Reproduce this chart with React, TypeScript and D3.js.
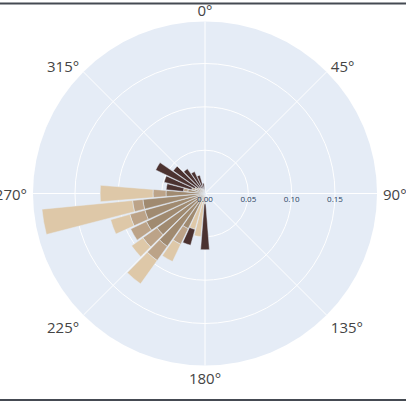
import * as d3 from 'd3';

// direction bins (degrees, compass) and stacked frequencies per class
const directions = [180, 190, 200, 210, 220, 230, 240, 250, 260, 270, 280, 290, 300, 310, 320, 330, 340, 350];
const classA = [0, 0, 0, 0.045, 0.075, 0.068, 0.075, 0.072, 0.072, 0.045, 0.02, 0.012, 0.01, 0.008, 0.006, 0.005, 0.004, 0.003];
const classB = [0, 0.01, 0.008, 0.02, 0.02, 0.02, 0.02, 0.018, 0.012, 0.015, 0.005, 0.004, 0.003, 0.002, 0.002, 0.002, 0.002, 0.002];
const classC = [0.012, 0.04, 0.035, 0.022, 0.033, 0.016, 0, 0.023, 0.105, 0.061, 0, 0, 0, 0, 0, 0, 0, 0];
const classD = [0.053, 0, 0.019, 0, 0, 0, 0, 0, 0, 0, 0.02, 0.033, 0.05, 0.035, 0.027, 0.021, 0.016, 0.007];

const seriesKeys = ['A', 'B', 'C', 'D'];
const seriesColors: Record<string, string> = {
    A: '#a08a70',
    B: '#bca388',
    C: '#dec8a8',
    D: '#4b3230',
};

const angularTicks = [0, 45, 90, 135, 180, 225, 270, 315];
const radialTicks = [0, 0.05, 0.1, 0.15];

const width = 406;
const height = 406;
const cx = 205;
const cy = 193.5;
const outerR = 172;

export default function App() {
    const rows = directions.map((dir, i) => ({
        dir,
        A: classA[i],
        B: classB[i],
        C: classC[i],
        D: classD[i],
    }));

    const stack = d3.stack<any>().keys(seriesKeys);
    const series = stack(rows);

    const maxTotal = d3.max(rows, d => d.A + d.B + d.C + d.D) || 0;
    const rScale = d3.scaleLinear().domain([0, maxTotal * 1.05]).range([0, outerR]);

    const rad = (deg: number) => (deg * Math.PI) / 180;
    const binWidth = 10 * 0.9;

    const arc = d3.arc<any>();

    return (
        <svg
            width={width}
            height={height}
            style={{ position: 'absolute', left: 0, top: 0, background: '#fff' }}
            fontFamily="'Open Sans', sans-serif"
        >
            <rect x={0} y={0} width={width} height={height} fill="#fff" />
            <line x1={0} x2={width} y1={3.5} y2={3.5} stroke="#454a52" strokeWidth={2} />
            <line x1={0} x2={width} y1={400} y2={400} stroke="#454a52" strokeWidth={2} />

            <g transform={`translate(${cx},${cy})`}>
                <circle r={outerR} fill="#E5ECF6" />

                {/* grid */}
                {radialTicks.slice(1).map(t => (
                    <circle key={t} r={rScale(t)} fill="none" stroke="#fff" strokeWidth={1} />
                ))}
                {angularTicks.map(a => (
                    <line
                        key={a}
                        x1={0}
                        y1={0}
                        x2={Math.sin(rad(a)) * outerR}
                        y2={-Math.cos(rad(a)) * outerR}
                        stroke="#fff"
                        strokeWidth={1}
                    />
                ))}

                {/* stacked bars */}
                {series.map(s => (
                    <g key={s.key}>
                        {s.map((d, i) => {
                            if (d[1] - d[0] <= 0) return null;
                            const dir = directions[i];
                            const path = arc({
                                innerRadius: rScale(d[0]),
                                outerRadius: rScale(d[1]),
                                startAngle: rad(dir - binWidth / 2),
                                endAngle: rad(dir + binWidth / 2),
                            });
                            return (
                                <path
                                    key={i}
                                    d={path || ''}
                                    fill={seriesColors[s.key]}
                                    stroke="#E5ECF6"
                                    strokeWidth={0.5}
                                />
                            );
                        })}
                    </g>
                ))}

                {/* radial tick labels */}
                {radialTicks.map(t => (
                    <text
                        key={t}
                        x={rScale(t)}
                        y={8}
                        textAnchor="middle"
                        fontSize={8}
                        fill="#2a3f5f"
                    >
                        {d3.format('.2f')(t)}
                    </text>
                ))}

                {/* angular tick labels */}
                {angularTicks.map(a => {
                    const s = Math.sin(rad(a));
                    const c = Math.cos(rad(a));
                    const anchor = s > 0.1 ? 'start' : s < -0.1 ? 'end' : 'middle';
                    const diag = Math.abs(s) > 0.1 && Math.abs(c) > 0.1 ? 3 : 0;
                    return (
                        <text
                            key={a}
                            x={s * (outerR + 6)}
                            y={-c * (outerR + 12) + diag}
                            textAnchor={anchor}
                            dominantBaseline="central"
                            fontSize={15}
                            fill="#444"
                        >
                            {`${a}°`}
                        </text>
                    );
                })}
            </g>
        </svg>
    );
}
